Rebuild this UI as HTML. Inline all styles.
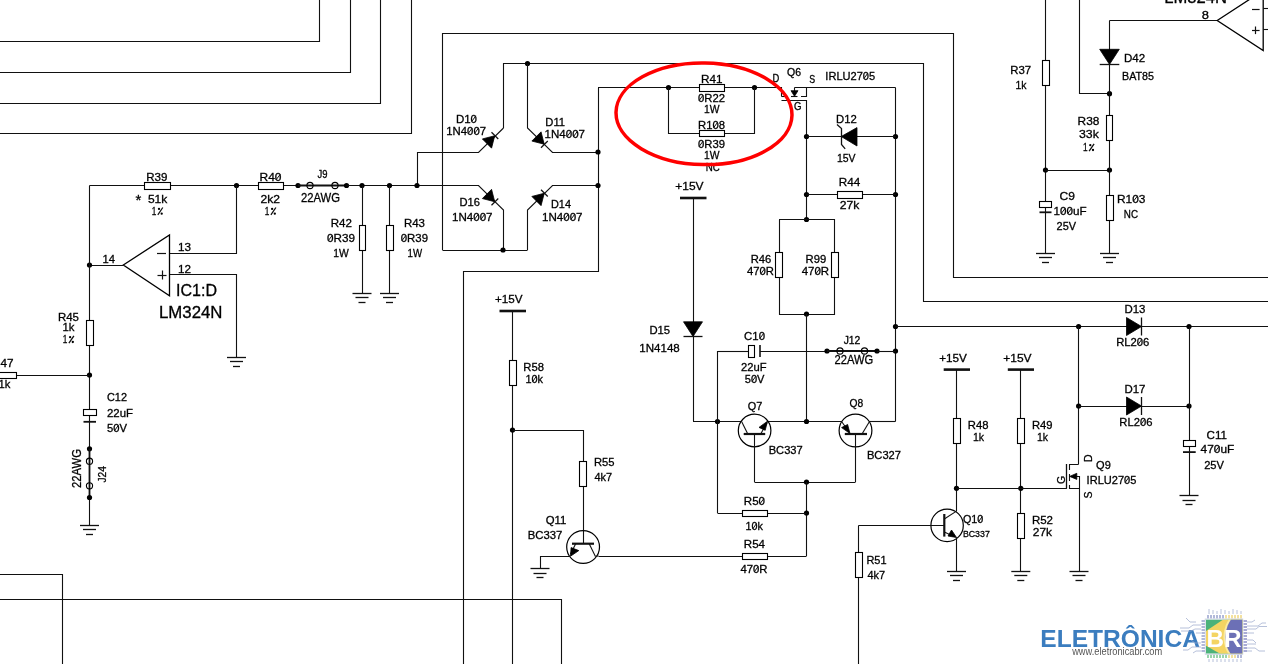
<!DOCTYPE html>
<html><head><meta charset="utf-8"><style>
html,body{margin:0;padding:0;background:#fff;width:1268px;height:664px;overflow:hidden}
svg{display:block;will-change:transform}
text{font-family:"Liberation Sans", sans-serif;stroke:#000;stroke-width:0.3px}
</style></head><body>
<svg width="1268" height="664" viewBox="0 0 1268 664">
<rect width="1268" height="664" fill="#fff"/>
<path d="M0,41.5 L319.5,41.5 L319.5,0" fill="none" stroke="#111" stroke-width="1.1"/>
<path d="M0,72.5 L350.5,72.5 L350.5,0" fill="none" stroke="#111" stroke-width="1.1"/>
<path d="M0,103.5 L380.5,103.5 L380.5,0" fill="none" stroke="#111" stroke-width="1.1"/>
<path d="M0,133.5 L411.5,133.5 L411.5,0" fill="none" stroke="#111" stroke-width="1.1"/>
<path d="M442.5,250 L442.5,33.5 L953.5,33.5 L953.5,277.5 L1268,277.5" fill="none" stroke="#111" stroke-width="1.1"/>
<path d="M503.5,128 L503.5,63.5 L923.5,63.5 L923.5,301.5 L1268,301.5" fill="none" stroke="#111" stroke-width="1.1"/>
<circle cx="527.5" cy="63.5" r="2.6" fill="#000"/>
<path d="M527.5,63.5 L527.5,128 L552.5,152.5 L598,152.5" fill="none" stroke="#111" stroke-width="1.1"/>
<path d="M503.5,128 L478.5,152.5 L417.5,152.5 L417.5,185.5" fill="none" stroke="#111" stroke-width="1.1"/>
<path d="M417,185.5 L478.5,185.5 L503.5,210 L503.5,250" fill="none" stroke="#111" stroke-width="1.1"/>
<path d="M527.5,250 L527.5,210 L552.5,185.5 L598,185.5" fill="none" stroke="#111" stroke-width="1.1"/>
<path d="M442.5,250.5 L527.5,250.5" fill="none" stroke="#111" stroke-width="1.1"/>
<circle cx="503" cy="250" r="2.6" fill="#000"/>
<path d="M598.5,87.5 L598.5,271.5 L463.5,271.5 L463.5,664" fill="none" stroke="#111" stroke-width="1.1"/>
<circle cx="598" cy="152" r="2.6" fill="#000"/>
<circle cx="598" cy="185.5" r="2.6" fill="#000"/>
<path d="M482.368,138.939 L491.561,148.132 L494.743,135.757Z" fill="#000" stroke="#000" stroke-width="0.8"/>
<path d="M491.49,132.222 L498.278,139.01" fill="none" stroke="#111" stroke-width="1.2"/>
<path d="M541.061,131.868 L531.868,141.061 L544.243,144.243Z" fill="#000" stroke="#000" stroke-width="0.8"/>
<path d="M547.778,140.99 L540.99,147.778" fill="none" stroke="#111" stroke-width="1.2"/>
<path d="M491.561,189.368 L482.368,198.561 L494.743,201.743Z" fill="#000" stroke="#000" stroke-width="0.8"/>
<path d="M498.278,198.49 L491.49,205.278" fill="none" stroke="#111" stroke-width="1.2"/>
<path d="M531.868,196.439 L541.061,205.632 L544.243,193.257Z" fill="#000" stroke="#000" stroke-width="0.8"/>
<path d="M540.99,189.722 L547.778,196.51" fill="none" stroke="#111" stroke-width="1.2"/>
<path d="M598,87.5 L781.5,87.5 L781.5,96.5" fill="none" stroke="#111" stroke-width="1.1"/>
<circle cx="668.5" cy="87.5" r="2.6" fill="#000"/>
<circle cx="754.5" cy="87.5" r="2.6" fill="#000"/>
<rect x="699.5" y="84.5" width="25" height="7" fill="#fff" stroke="#000" stroke-width="1.1"/>
<path d="M668.5,87.5 L668.5,133.5 L754.5,133.5 L754.5,87.5" fill="none" stroke="#111" stroke-width="1.1"/>
<rect x="699.5" y="130.5" width="25" height="6" fill="#fff" stroke="#000" stroke-width="1.1"/>
<path d="M781.5,96.5 L787,96.5" fill="none" stroke="#111" stroke-width="1.1"/>
<path d="M791,96.5 L797.5,96.5" fill="none" stroke="#111" stroke-width="1.1"/>
<path d="M801,96.5 L806.5,96.5 L806.5,87.5" fill="none" stroke="#111" stroke-width="1.1"/>
<path d="M794.5,87.5 L895.5,87.5" fill="none" stroke="#111" stroke-width="1.1"/>
<path d="M794.5,87.5 L794.5,92" fill="none" stroke="#111" stroke-width="1.1"/>
<path d="M791,90.7 L798,90.7 L794.5,96.3Z" fill="#000" stroke="#000" stroke-width="0.8"/>
<path d="M781.5,100.5 L806.5,100.5 L806.5,219.5" fill="none" stroke="#111" stroke-width="1.1"/>
<path d="M895.5,87.5 L895.5,421.5" fill="none" stroke="#111" stroke-width="1.1"/>
<circle cx="806.5" cy="136.5" r="2.6" fill="#000"/>
<circle cx="895.5" cy="136.5" r="2.6" fill="#000"/>
<path d="M806.5,136.5 L895.5,136.5" fill="none" stroke="#111" stroke-width="1.1"/>
<path d="M857,127.6 L857,146 L841.2,136.5Z" fill="#000" stroke="#000" stroke-width="0.8"/>
<path d="M837,124.5 L841.5,128.5 L841.5,144.5 L845.2,148.8" fill="none" stroke="#111" stroke-width="1.3"/>
<circle cx="806.5" cy="194.5" r="2.6" fill="#000"/>
<circle cx="895.5" cy="194.5" r="2.6" fill="#000"/>
<path d="M806.5,194.5 L895.5,194.5" fill="none" stroke="#111" stroke-width="1.1"/>
<rect x="837.5" y="191.5" width="25" height="7" fill="#fff" stroke="#000" stroke-width="1.1"/>
<circle cx="806.5" cy="219.5" r="2.6" fill="#000"/>
<path d="M779,219.5 L834.5,219.5 L834.5,314.5 L779.5,314.5 L779.5,219.5" fill="none" stroke="#111" stroke-width="1.1"/>
<rect x="775.5" y="252.5" width="7" height="25" fill="#fff" stroke="#000" stroke-width="1.1"/>
<rect x="831.5" y="252.5" width="7" height="25" fill="#fff" stroke="#000" stroke-width="1.1"/>
<circle cx="806.5" cy="314" r="2.6" fill="#000"/>
<path d="M806.5,314 L806.5,421.5" fill="none" stroke="#111" stroke-width="1.1"/>
<circle cx="895.5" cy="326.5" r="2.6" fill="#000"/>
<circle cx="895.5" cy="351" r="2.6" fill="#000"/>
<path d="M680,198 L706.5,198" fill="none" stroke="#111" stroke-width="2.6"/>
<path d="M693.5,198 L693.5,421.5" fill="none" stroke="#111" stroke-width="1.1"/>
<path d="M683.5,321.8 L702.5,321.8 L693,336.5Z" fill="#000" stroke="#000" stroke-width="0.8"/>
<path d="M683.5,336.5 L702.5,336.5" fill="none" stroke="#111" stroke-width="1.3"/>
<path d="M693,421.5 L741.6,421.5" fill="none" stroke="#111" stroke-width="1.1"/>
<circle cx="717.5" cy="421.5" r="2.6" fill="#000"/>
<path d="M767.7,421.5 L841.6,421.5" fill="none" stroke="#111" stroke-width="1.1"/>
<circle cx="806.5" cy="421.5" r="2.6" fill="#000"/>
<path d="M869.5,421.5 L895.5,421.5" fill="none" stroke="#111" stroke-width="1.1"/>
<path d="M717.5,351.5 L748,351.5" fill="none" stroke="#111" stroke-width="1.1"/>
<rect x="748.5" y="345.5" width="6" height="12" fill="#fff" stroke="#000" stroke-width="1.1"/>
<path d="M760,345 L760,357" fill="none" stroke="#111" stroke-width="1.6"/>
<path d="M760,351.5 L827,351.5" fill="none" stroke="#111" stroke-width="1.1"/>
<circle cx="827" cy="351" r="2.6" fill="#000"/>
<path d="M827,351 L877,351" fill="none" stroke="#111" stroke-width="1.8"/>
<circle cx="840" cy="351" r="3.1" fill="none" stroke="#000" stroke-width="1.1"/>
<circle cx="864.5" cy="351" r="3.1" fill="none" stroke="#000" stroke-width="1.1"/>
<circle cx="877" cy="351" r="2.6" fill="#000"/>
<path d="M877,351.5 L895.5,351.5" fill="none" stroke="#111" stroke-width="1.1"/>
<path d="M717.5,351 L717.5,513" fill="none" stroke="#111" stroke-width="1.1"/>
<circle cx="754.6" cy="430.5" r="16.3" fill="none" stroke="#000" stroke-width="1.2"/>
<path d="M743.7,434 L765.2,434" fill="none" stroke="#111" stroke-width="2.2"/>
<path d="M741.6,421.5 L747.8,434" fill="none" stroke="#111" stroke-width="1.1"/>
<path d="M760.7,434 L767.2,422.5" fill="none" stroke="#111" stroke-width="1.1"/>
<path d="M767.5,421.2 L759,427.4 L765.2,430.3Z" fill="#000" stroke="#000" stroke-width="0.8"/>
<path d="M754.5,434 L754.5,482" fill="none" stroke="#111" stroke-width="1.1"/>
<circle cx="855.5" cy="430.5" r="16.4" fill="none" stroke="#000" stroke-width="1.2"/>
<path d="M844.8,434 L867,434" fill="none" stroke="#111" stroke-width="2.2"/>
<path d="M841.6,421.5 L849,432" fill="none" stroke="#111" stroke-width="1.1"/>
<path d="M850,433.5 L841.6,427.6 L847.6,424.5Z" fill="#000" stroke="#000" stroke-width="0.8"/>
<path d="M862,434 L869.5,421.5" fill="none" stroke="#111" stroke-width="1.1"/>
<path d="M855.5,434 L855.5,482" fill="none" stroke="#111" stroke-width="1.1"/>
<path d="M754.5,482.5 L855.5,482.5" fill="none" stroke="#111" stroke-width="1.1"/>
<circle cx="806.5" cy="482" r="2.6" fill="#000"/>
<path d="M806.5,482 L806.5,556" fill="none" stroke="#111" stroke-width="1.1"/>
<circle cx="806.5" cy="513" r="2.6" fill="#000"/>
<path d="M717.5,513.5 L806.5,513.5" fill="none" stroke="#111" stroke-width="1.1"/>
<rect x="742.5" y="510.5" width="25" height="6" fill="#fff" stroke="#000" stroke-width="1.1"/>
<path d="M598.7,556.5 L806.5,556.5" fill="none" stroke="#111" stroke-width="1.1"/>
<rect x="742.5" y="553.5" width="25" height="6" fill="#fff" stroke="#000" stroke-width="1.1"/>
<path d="M499.5,311 L526,311" fill="none" stroke="#111" stroke-width="2.6"/>
<path d="M512.5,311 L512.5,664" fill="none" stroke="#111" stroke-width="1.1"/>
<rect x="509.5" y="360.5" width="7" height="25" fill="#fff" stroke="#000" stroke-width="1.1"/>
<circle cx="512.5" cy="430" r="2.6" fill="#000"/>
<path d="M512.5,430.5 L583.5,430.5 L583.5,543.7" fill="none" stroke="#111" stroke-width="1.1"/>
<rect x="579.5" y="461.5" width="7" height="25" fill="#fff" stroke="#000" stroke-width="1.1"/>
<circle cx="583.1" cy="547" r="16.4" fill="none" stroke="#000" stroke-width="1.2"/>
<path d="M572,543.7 L594,543.7" fill="none" stroke="#111" stroke-width="2.2"/>
<path d="M575.7,543.7 L570.5,554" fill="none" stroke="#111" stroke-width="1.1"/>
<path d="M570.5,556.2 L571.1,547.6 L578.8,550.6Z" fill="#000" stroke="#000" stroke-width="0.8"/>
<path d="M589.2,543.7 L595.3,556.2 L598.7,556" fill="none" stroke="#111" stroke-width="1.1"/>
<path d="M570,556.5 L540.5,556.5 L540.5,568.5" fill="none" stroke="#111" stroke-width="1.1"/>
<path d="M530.5,568.5 L549.5,568.5" fill="none" stroke="#111" stroke-width="1.3"/>
<path d="M533.5,573.5 L546.5,573.5" fill="none" stroke="#111" stroke-width="1.3"/>
<path d="M536.5,577.5 L543.5,577.5" fill="none" stroke="#111" stroke-width="1.3"/>
<path d="M0,599.5 L561.5,599.5 L561.5,664" fill="none" stroke="#111" stroke-width="1.1"/>
<path d="M0,574.5 L62.5,574.5 L62.5,664" fill="none" stroke="#111" stroke-width="1.1"/>
<path d="M89.5,185.5 L298,185.5" fill="none" stroke="#111" stroke-width="1.1"/>
<rect x="144.5" y="182.5" width="26" height="7" fill="#fff" stroke="#000" stroke-width="1.1"/>
<circle cx="236.5" cy="185.5" r="2.6" fill="#000"/>
<rect x="258.5" y="182.5" width="25" height="7" fill="#fff" stroke="#000" stroke-width="1.1"/>
<circle cx="298" cy="185.5" r="2.6" fill="#000"/>
<path d="M298,185.5 L346.5,185.5" fill="none" stroke="#111" stroke-width="1.8"/>
<circle cx="310" cy="185.5" r="3.1" fill="none" stroke="#000" stroke-width="1.1"/>
<circle cx="335" cy="185.5" r="3.1" fill="none" stroke="#000" stroke-width="1.1"/>
<circle cx="346.5" cy="185.5" r="2.6" fill="#000"/>
<path d="M346.5,185.5 L417,185.5" fill="none" stroke="#111" stroke-width="1.1"/>
<circle cx="362" cy="185.5" r="2.6" fill="#000"/>
<circle cx="389.5" cy="185.5" r="2.6" fill="#000"/>
<circle cx="417" cy="185.5" r="2.6" fill="#000"/>
<path d="M236.5,185.5 L236.5,253.5 L169.5,253.5" fill="none" stroke="#111" stroke-width="1.1"/>
<path d="M169.5,274.5 L236.5,274.5 L236.5,357" fill="none" stroke="#111" stroke-width="1.1"/>
<path d="M227,357.5 L246,357.5" fill="none" stroke="#111" stroke-width="1.3"/>
<path d="M230,361.5 L243,361.5" fill="none" stroke="#111" stroke-width="1.3"/>
<path d="M233,366.5 L240,366.5" fill="none" stroke="#111" stroke-width="1.3"/>
<path d="M123.3,265 L169.5,235 L169.5,295.8 Z" fill="none" stroke="#000" stroke-width="1.3"/>
<path d="M157,253.5 L166,253.5" fill="none" stroke="#111" stroke-width="1.2"/>
<path d="M157.5,275.5 L166.5,275.5" fill="none" stroke="#111" stroke-width="1.2"/>
<path d="M162.5,270.5 L162.5,279.5" fill="none" stroke="#111" stroke-width="1.2"/>
<path d="M89.5,265.5 L123.3,265.5" fill="none" stroke="#111" stroke-width="1.1"/>
<circle cx="89.5" cy="265" r="2.6" fill="#000"/>
<path d="M89.5,185.5 L89.5,448.8" fill="none" stroke="#111" stroke-width="1.1"/>
<path d="M89.5,497.5 L89.5,525" fill="none" stroke="#111" stroke-width="1.1"/>
<rect x="86.5" y="320.5" width="7" height="25" fill="#fff" stroke="#000" stroke-width="1.1"/>
<circle cx="89.5" cy="375" r="2.6" fill="#000"/>
<path d="M-10,375.5 L89.5,375.5" fill="none" stroke="#111" stroke-width="1.1"/>
<rect x="-8.5" y="372.5" width="25" height="6" fill="#fff" stroke="#000" stroke-width="1.1"/>
<rect x="83.5" y="409.5" width="13" height="6" fill="#fff" stroke="#000" stroke-width="1.1"/>
<path d="M83.5,421.8 L96,421.8" fill="none" stroke="#111" stroke-width="1.8"/>
<circle cx="89.5" cy="448.8" r="2.6" fill="#000"/>
<path d="M89.5,448.8 L89.5,497.5" fill="none" stroke="#111" stroke-width="1.8"/>
<circle cx="89.5" cy="461.2" r="3.1" fill="none" stroke="#000" stroke-width="1.1"/>
<circle cx="89.5" cy="485.8" r="3.1" fill="none" stroke="#000" stroke-width="1.1"/>
<circle cx="89.5" cy="497.5" r="2.6" fill="#000"/>
<path d="M80,525.5 L99,525.5" fill="none" stroke="#111" stroke-width="1.3"/>
<path d="M83,529.5 L96,529.5" fill="none" stroke="#111" stroke-width="1.3"/>
<path d="M86,534.5 L93,534.5" fill="none" stroke="#111" stroke-width="1.3"/>
<path d="M362.5,185.5 L362.5,293" fill="none" stroke="#111" stroke-width="1.1"/>
<rect x="359.5" y="225.5" width="6" height="25" fill="#fff" stroke="#000" stroke-width="1.1"/>
<path d="M352.5,293.5 L371.5,293.5" fill="none" stroke="#111" stroke-width="1.3"/>
<path d="M355.5,297.5 L368.5,297.5" fill="none" stroke="#111" stroke-width="1.3"/>
<path d="M358.5,302.5 L365.5,302.5" fill="none" stroke="#111" stroke-width="1.3"/>
<path d="M389.5,185.5 L389.5,293" fill="none" stroke="#111" stroke-width="1.1"/>
<rect x="386.5" y="225.5" width="7" height="25" fill="#fff" stroke="#000" stroke-width="1.1"/>
<path d="M380,293.5 L399,293.5" fill="none" stroke="#111" stroke-width="1.3"/>
<path d="M383,297.5 L396,297.5" fill="none" stroke="#111" stroke-width="1.3"/>
<path d="M386,302.5 L393,302.5" fill="none" stroke="#111" stroke-width="1.3"/>
<path d="M1045.5,0 L1045.5,253" fill="none" stroke="#111" stroke-width="1.1"/>
<rect x="1042.5" y="60.5" width="7" height="25" fill="#fff" stroke="#000" stroke-width="1.1"/>
<circle cx="1045.5" cy="170" r="2.6" fill="#000"/>
<path d="M1045.5,170.5 L1109.5,170.5" fill="none" stroke="#111" stroke-width="1.1"/>
<circle cx="1109.5" cy="170" r="2.6" fill="#000"/>
<rect x="1039.5" y="201.5" width="12" height="6" fill="#fff" stroke="#000" stroke-width="1.1"/>
<path d="M1039.5,212.3 L1051.5,212.3" fill="none" stroke="#111" stroke-width="1.8"/>
<path d="M1036,253.5 L1055,253.5" fill="none" stroke="#111" stroke-width="1.3"/>
<path d="M1039,257.5 L1052,257.5" fill="none" stroke="#111" stroke-width="1.3"/>
<path d="M1042,262.5 L1049,262.5" fill="none" stroke="#111" stroke-width="1.3"/>
<path d="M1079.5,0 L1079.5,93.5 L1109.5,93.5" fill="none" stroke="#111" stroke-width="1.1"/>
<circle cx="1109.5" cy="93.7" r="2.6" fill="#000"/>
<path d="M1109.5,20.5 L1109.5,253" fill="none" stroke="#111" stroke-width="1.1"/>
<path d="M1099.7,49.3 L1119.3,49.3 L1109.5,64.4Z" fill="#000" stroke="#000" stroke-width="0.8"/>
<path d="M1099.7,64.5 L1119.3,64.5" fill="none" stroke="#111" stroke-width="1.3"/>
<rect x="1106.5" y="115.5" width="6" height="25" fill="#fff" stroke="#000" stroke-width="1.1"/>
<rect x="1106.5" y="195.5" width="7" height="25" fill="#fff" stroke="#000" stroke-width="1.1"/>
<path d="M1100,253.5 L1119,253.5" fill="none" stroke="#111" stroke-width="1.3"/>
<path d="M1103,257.5 L1116,257.5" fill="none" stroke="#111" stroke-width="1.3"/>
<path d="M1106,262.5 L1113,262.5" fill="none" stroke="#111" stroke-width="1.3"/>
<path d="M1109.5,20.5 L1217,20.5" fill="none" stroke="#111" stroke-width="1.1"/>
<path d="M1217.2,20.5 L1263.2,-9.5 L1263.2,50.5 Z" fill="none" stroke="#000" stroke-width="1.3"/>
<path d="M1263.2,8.5 L1268,8.5" fill="none" stroke="#111" stroke-width="1.1"/>
<path d="M1263.2,29.5 L1268,29.5" fill="none" stroke="#111" stroke-width="1.1"/>
<path d="M1252,9.5 L1259.6,9.5" fill="none" stroke="#111" stroke-width="1.2"/>
<path d="M1252,30.5 L1259.6,30.5" fill="none" stroke="#111" stroke-width="1.2"/>
<path d="M1255.5,26.5 L1255.5,34.1" fill="none" stroke="#111" stroke-width="1.2"/>
<path d="M895.5,326.5 L1268,326.5" fill="none" stroke="#111" stroke-width="1.1"/>
<circle cx="1078.6" cy="326.5" r="2.6" fill="#000"/>
<circle cx="1189" cy="326.5" r="2.6" fill="#000"/>
<path d="M1126.5,317.5 L1126.5,335.5 L1141.5,326.5Z" fill="#000" stroke="#000" stroke-width="0.8"/>
<path d="M1141.5,317.5 L1141.5,335.5" fill="none" stroke="#111" stroke-width="1.3"/>
<path d="M1078.5,326.5 L1078.5,464.3" fill="none" stroke="#111" stroke-width="1.1"/>
<circle cx="1078.6" cy="406" r="2.6" fill="#000"/>
<path d="M1078.6,406.5 L1189,406.5" fill="none" stroke="#111" stroke-width="1.1"/>
<circle cx="1189" cy="406" r="2.6" fill="#000"/>
<path d="M1126.5,397 L1126.5,415 L1141.5,406Z" fill="#000" stroke="#000" stroke-width="0.8"/>
<path d="M1141.5,397 L1141.5,415" fill="none" stroke="#111" stroke-width="1.3"/>
<path d="M1189.5,326.5 L1189.5,495.7" fill="none" stroke="#111" stroke-width="1.1"/>
<rect x="1183.5" y="440.5" width="12" height="6" fill="#fff" stroke="#000" stroke-width="1.1"/>
<path d="M1183,452.1 L1195.7,452.1" fill="none" stroke="#111" stroke-width="1.8"/>
<path d="M1179.5,495.5 L1198.5,495.5" fill="none" stroke="#111" stroke-width="1.3"/>
<path d="M1182.5,500.5 L1195.5,500.5" fill="none" stroke="#111" stroke-width="1.3"/>
<path d="M1185.5,504.5 L1192.5,504.5" fill="none" stroke="#111" stroke-width="1.3"/>
<path d="M943.7,369.6 L970,369.6" fill="none" stroke="#111" stroke-width="2.6"/>
<path d="M956.5,369.6 L956.5,511" fill="none" stroke="#111" stroke-width="1.1"/>
<rect x="953.5" y="418.5" width="7" height="25" fill="#fff" stroke="#000" stroke-width="1.1"/>
<circle cx="956.5" cy="488.3" r="2.6" fill="#000"/>
<path d="M1007.8,369.6 L1034,369.6" fill="none" stroke="#111" stroke-width="2.6"/>
<path d="M1020.5,369.6 L1020.5,571.4" fill="none" stroke="#111" stroke-width="1.1"/>
<rect x="1017.5" y="418.5" width="7" height="25" fill="#fff" stroke="#000" stroke-width="1.1"/>
<circle cx="1020.8" cy="488.3" r="2.6" fill="#000"/>
<rect x="1017.5" y="513.5" width="7" height="25" fill="#fff" stroke="#000" stroke-width="1.1"/>
<path d="M1011.3,571.5 L1030.3,571.5" fill="none" stroke="#111" stroke-width="1.3"/>
<path d="M1014.3,575.5 L1027.3,575.5" fill="none" stroke="#111" stroke-width="1.3"/>
<path d="M1017.3,580.5 L1024.3,580.5" fill="none" stroke="#111" stroke-width="1.3"/>
<path d="M956.5,488.5 L1066.9,488.5" fill="none" stroke="#111" stroke-width="1.1"/>
<path d="M1078.6,464.5 L1069.5,464.5 L1069.5,470" fill="none" stroke="#111" stroke-width="1.1"/>
<path d="M1069.5,474 L1069.5,481" fill="none" stroke="#111" stroke-width="1.1"/>
<path d="M1069.5,485 L1069.5,488.5 L1079,488.5" fill="none" stroke="#111" stroke-width="1.1"/>
<path d="M1066.5,464 L1066.5,488.4" fill="none" stroke="#111" stroke-width="1.3"/>
<path d="M1072,476.5 L1079.5,476.5 L1079.5,571.4" fill="none" stroke="#111" stroke-width="1.1"/>
<path d="M1069.7,476.4 L1076.8,473.3 L1076.8,479.4Z" fill="#000" stroke="#000" stroke-width="0.8"/>
<path d="M1069.5,571.5 L1088.5,571.5" fill="none" stroke="#111" stroke-width="1.3"/>
<path d="M1072.5,575.5 L1085.5,575.5" fill="none" stroke="#111" stroke-width="1.3"/>
<path d="M1075.5,580.5 L1082.5,580.5" fill="none" stroke="#111" stroke-width="1.3"/>
<circle cx="947.1" cy="525.4" r="16.2" fill="none" stroke="#000" stroke-width="1.2"/>
<path d="M944.3,514 L944.3,536.6" fill="none" stroke="#111" stroke-width="2.2"/>
<path d="M944.3,519 L956.5,511.1" fill="none" stroke="#111" stroke-width="1.1"/>
<path d="M944.3,532 L954,536.5" fill="none" stroke="#111" stroke-width="1.1"/>
<path d="M956.5,537.5 L948,536 L951.5,530Z" fill="#000" stroke="#000" stroke-width="0.8"/>
<path d="M956.5,537.5 L956.5,571.4" fill="none" stroke="#111" stroke-width="1.1"/>
<path d="M947,571.5 L966,571.5" fill="none" stroke="#111" stroke-width="1.3"/>
<path d="M950,575.5 L963,575.5" fill="none" stroke="#111" stroke-width="1.3"/>
<path d="M953,580.5 L960,580.5" fill="none" stroke="#111" stroke-width="1.3"/>
<path d="M858.6,525.5 L944.3,525.5" fill="none" stroke="#111" stroke-width="1.1"/>
<path d="M858.5,525.4 L858.5,664" fill="none" stroke="#111" stroke-width="1.1"/>
<rect x="855.5" y="552.5" width="7" height="25" fill="#fff" stroke="#000" stroke-width="1.1"/>
<text x="146.25" y="181" font-size="11.5" textLength="21.25" lengthAdjust="spacingAndGlyphs" fill="#000">R39</text>
<text x="135.6" y="205" font-size="14" textLength="5.8" lengthAdjust="spacingAndGlyphs" fill="#000">*</text>
<text x="147.9" y="202.7" font-size="11.5" textLength="19.4" lengthAdjust="spacingAndGlyphs" fill="#000">51k</text>
<text x="151.7" y="214.7" font-size="11.5" textLength="4.6" lengthAdjust="spacingAndGlyphs" fill="#000">1</text>
<path d="M157.8,214.9 L162.8,207.5" fill="none" stroke="#111" stroke-width="1.3"/>
<circle cx="159" cy="208.9" r="1.15" fill="#000"/>
<circle cx="161.7" cy="213.7" r="1.15" fill="#000"/>
<text x="259.5" y="181" font-size="11.5" textLength="22" lengthAdjust="spacingAndGlyphs" fill="#000">R40</text>
<path d="M276.013,179.8 L280.315,174.288" fill="none" stroke="#111" stroke-width="1.0"/>
<text x="260.5" y="203" font-size="11.5" textLength="19.5" lengthAdjust="spacingAndGlyphs" fill="#000">2k2</text>
<text x="264.8" y="214.7" font-size="11.5" textLength="4.6" lengthAdjust="spacingAndGlyphs" fill="#000">1</text>
<path d="M270.9,214.9 L275.9,207.5" fill="none" stroke="#111" stroke-width="1.3"/>
<circle cx="272.1" cy="208.9" r="1.15" fill="#000"/>
<circle cx="274.8" cy="213.7" r="1.15" fill="#000"/>
<text x="102.5" y="263" font-size="11.5" textLength="12.5" lengthAdjust="spacingAndGlyphs" fill="#000">14</text>
<text x="178" y="251" font-size="11.5" textLength="13" lengthAdjust="spacingAndGlyphs" fill="#000">13</text>
<text x="178" y="272.5" font-size="11.5" textLength="13" lengthAdjust="spacingAndGlyphs" fill="#000">12</text>
<text x="176" y="296" font-size="16" textLength="41" lengthAdjust="spacingAndGlyphs" fill="#000">IC1:D</text>
<text x="159" y="318" font-size="16" textLength="63.5" lengthAdjust="spacingAndGlyphs" fill="#000">LM324N</text>
<text x="58" y="321" font-size="11.5" textLength="21" lengthAdjust="spacingAndGlyphs" fill="#000">R45</text>
<text x="62.5" y="331" font-size="11.5" textLength="12" lengthAdjust="spacingAndGlyphs" fill="#000">1k</text>
<text x="62.8" y="343" font-size="11.5" textLength="4.6" lengthAdjust="spacingAndGlyphs" fill="#000">1</text>
<path d="M68.9,343.2 L73.9,335.8" fill="none" stroke="#111" stroke-width="1.3"/>
<circle cx="70.1" cy="337.2" r="1.15" fill="#000"/>
<circle cx="72.8" cy="342" r="1.15" fill="#000"/>
<text x="-8" y="367" font-size="11.5" textLength="21.5" lengthAdjust="spacingAndGlyphs" fill="#000">R47</text>
<text x="-1.5" y="388.3" font-size="11.5" textLength="11.9" lengthAdjust="spacingAndGlyphs" fill="#000">1k</text>
<text x="107" y="401" font-size="11.5" textLength="20" lengthAdjust="spacingAndGlyphs" fill="#000">C12</text>
<text x="107" y="417" font-size="11.5" textLength="26" lengthAdjust="spacingAndGlyphs" fill="#000">22uF</text>
<text x="107" y="432" font-size="11.5" textLength="20" lengthAdjust="spacingAndGlyphs" fill="#000">50V</text>
<path d="M114.36,430.8 L118.392,425.288" fill="none" stroke="#111" stroke-width="1.0"/>
<text x="301" y="201.75" font-size="13" textLength="39" lengthAdjust="spacingAndGlyphs" fill="#000">22AWG</text>
<text x="317.5" y="177.5" font-size="10.5" textLength="10" lengthAdjust="spacingAndGlyphs" fill="#000">J9</text>
<text x="330.75" y="226.75" font-size="11.5" textLength="21.25" lengthAdjust="spacingAndGlyphs" fill="#000">R42</text>
<text x="327" y="242" font-size="11.5" textLength="28" lengthAdjust="spacingAndGlyphs" fill="#000">0R39</text>
<path d="M328.155,240.8 L332.357,235.288" fill="none" stroke="#111" stroke-width="1.0"/>
<text x="333.25" y="257" font-size="11.5" textLength="15.5" lengthAdjust="spacingAndGlyphs" fill="#000">1W</text>
<text x="404" y="226.75" font-size="11.5" textLength="21" lengthAdjust="spacingAndGlyphs" fill="#000">R43</text>
<text x="400.75" y="242" font-size="11.5" textLength="27.25" lengthAdjust="spacingAndGlyphs" fill="#000">0R39</text>
<path d="M401.874,240.8 L405.963,235.288" fill="none" stroke="#111" stroke-width="1.0"/>
<text x="407.5" y="257" font-size="11.5" textLength="14.5" lengthAdjust="spacingAndGlyphs" fill="#000">1W</text>
<text x="455.9" y="122.6" font-size="11.5" textLength="21.1" lengthAdjust="spacingAndGlyphs" fill="#000">D10</text>
<path d="M471.738,121.4 L475.864,115.888" fill="none" stroke="#111" stroke-width="1.0"/>
<text x="446.3" y="134.7" font-size="11.5" textLength="39.7" lengthAdjust="spacingAndGlyphs" fill="#000">1N4007</text>
<path d="M468.209,133.5 L472.274,127.988" fill="none" stroke="#111" stroke-width="1.0"/>
<path d="M474.512,133.5 L478.577,127.988" fill="none" stroke="#111" stroke-width="1.0"/>
<text x="545.3" y="126" font-size="11.5" textLength="19.7" lengthAdjust="spacingAndGlyphs" fill="#000">D11</text>
<text x="544.6" y="138" font-size="11.5" textLength="40.4" lengthAdjust="spacingAndGlyphs" fill="#000">1N4007</text>
<path d="M566.895,136.8 L571.032,131.288" fill="none" stroke="#111" stroke-width="1.0"/>
<path d="M573.309,136.8 L577.446,131.288" fill="none" stroke="#111" stroke-width="1.0"/>
<text x="459.5" y="205.5" font-size="11.5" textLength="20.5" lengthAdjust="spacingAndGlyphs" fill="#000">D16</text>
<text x="452" y="220.75" font-size="11.5" textLength="40.5" lengthAdjust="spacingAndGlyphs" fill="#000">1N4007</text>
<path d="M474.35,219.55 L478.498,214.038" fill="none" stroke="#111" stroke-width="1.0"/>
<path d="M480.78,219.55 L484.928,214.038" fill="none" stroke="#111" stroke-width="1.0"/>
<text x="551" y="208" font-size="11.5" textLength="20" lengthAdjust="spacingAndGlyphs" fill="#000">D14</text>
<text x="542" y="220.75" font-size="11.5" textLength="40.5" lengthAdjust="spacingAndGlyphs" fill="#000">1N4007</text>
<path d="M564.35,219.55 L568.498,214.038" fill="none" stroke="#111" stroke-width="1.0"/>
<path d="M570.78,219.55 L574.928,214.038" fill="none" stroke="#111" stroke-width="1.0"/>
<text x="495" y="303" font-size="11.5" textLength="27.5" lengthAdjust="spacingAndGlyphs" fill="#000">+15V</text>
<text x="701" y="82.8" font-size="11.5" textLength="21.5" lengthAdjust="spacingAndGlyphs" fill="#000">R41</text>
<text x="698" y="101.7" font-size="11.5" textLength="27" lengthAdjust="spacingAndGlyphs" fill="#000">0R22</text>
<path d="M699.114,100.5 L703.165,94.988" fill="none" stroke="#111" stroke-width="1.0"/>
<text x="704" y="113.1" font-size="11.5" textLength="15.5" lengthAdjust="spacingAndGlyphs" fill="#000">1W</text>
<text x="698" y="129" font-size="11.5" textLength="27" lengthAdjust="spacingAndGlyphs" fill="#000">R108</text>
<path d="M713.552,127.8 L717.603,122.288" fill="none" stroke="#111" stroke-width="1.0"/>
<text x="698" y="147.7" font-size="11.5" textLength="27" lengthAdjust="spacingAndGlyphs" fill="#000">0R39</text>
<path d="M699.114,146.5 L703.165,140.988" fill="none" stroke="#111" stroke-width="1.0"/>
<text x="704" y="159" font-size="11.5" textLength="15.5" lengthAdjust="spacingAndGlyphs" fill="#000">1W</text>
<text x="705.7" y="171.3" font-size="11.5" textLength="14.1" lengthAdjust="spacingAndGlyphs" fill="#000">NC</text>
<text x="772.6" y="82.2" font-size="10.5" textLength="6.8" lengthAdjust="spacingAndGlyphs" fill="#000">D</text>
<text x="787" y="76.3" font-size="10.5" textLength="14" lengthAdjust="spacingAndGlyphs" fill="#000">Q6</text>
<text x="809.2" y="83.3" font-size="10.5" textLength="5.9" lengthAdjust="spacingAndGlyphs" fill="#000">S</text>
<text x="825.3" y="79.7" font-size="11.5" textLength="49.9" lengthAdjust="spacingAndGlyphs" fill="#000">IRLU2705</text>
<path d="M863.967,78.5 L867.942,72.988" fill="none" stroke="#111" stroke-width="1.0"/>
<text x="793.9" y="110.2" font-size="10.5" textLength="7.5" lengthAdjust="spacingAndGlyphs" fill="#000">G</text>
<text x="836.1" y="122.6" font-size="11.5" textLength="20.8" lengthAdjust="spacingAndGlyphs" fill="#000">D12</text>
<text x="837" y="162.2" font-size="11.5" textLength="18.6" lengthAdjust="spacingAndGlyphs" fill="#000">15V</text>
<text x="838.7" y="186.3" font-size="11.5" textLength="21.5" lengthAdjust="spacingAndGlyphs" fill="#000">R44</text>
<text x="839.7" y="208.6" font-size="11.5" textLength="19.6" lengthAdjust="spacingAndGlyphs" fill="#000">27k</text>
<text x="675.3" y="190" font-size="11.5" textLength="28.3" lengthAdjust="spacingAndGlyphs" fill="#000">+15V</text>
<text x="750.7" y="263.4" font-size="11.5" textLength="20.6" lengthAdjust="spacingAndGlyphs" fill="#000">R46</text>
<text x="746.9" y="275.4" font-size="11.5" textLength="27" lengthAdjust="spacingAndGlyphs" fill="#000">470R</text>
<path d="M760.577,274.2 L764.628,268.688" fill="none" stroke="#111" stroke-width="1.0"/>
<text x="805.5" y="263.4" font-size="11.5" textLength="20.7" lengthAdjust="spacingAndGlyphs" fill="#000">R99</text>
<text x="801.7" y="275.4" font-size="11.5" textLength="27.4" lengthAdjust="spacingAndGlyphs" fill="#000">470R</text>
<path d="M815.579,274.2 L819.691,268.688" fill="none" stroke="#111" stroke-width="1.0"/>
<text x="649.4" y="333.7" font-size="11.5" textLength="20.7" lengthAdjust="spacingAndGlyphs" fill="#000">D15</text>
<text x="639.3" y="352.3" font-size="11.5" textLength="40.5" lengthAdjust="spacingAndGlyphs" fill="#000">1N4148</text>
<text x="744.1" y="339.8" font-size="11.5" textLength="20.9" lengthAdjust="spacingAndGlyphs" fill="#000">C10</text>
<path d="M759.788,338.6 L763.874,333.088" fill="none" stroke="#111" stroke-width="1.0"/>
<text x="741" y="371.1" font-size="11.5" textLength="25.5" lengthAdjust="spacingAndGlyphs" fill="#000">22uF</text>
<text x="744.8" y="382.7" font-size="11.5" textLength="19.7" lengthAdjust="spacingAndGlyphs" fill="#000">50V</text>
<path d="M752.05,381.5 L756.021,375.988" fill="none" stroke="#111" stroke-width="1.0"/>
<text x="843.7" y="343.8" font-size="10.5" textLength="16.7" lengthAdjust="spacingAndGlyphs" fill="#000">J12</text>
<text x="834.6" y="364.3" font-size="13" textLength="38.7" lengthAdjust="spacingAndGlyphs" fill="#000">22AWG</text>
<text x="747.7" y="410.4" font-size="11.5" textLength="14.5" lengthAdjust="spacingAndGlyphs" fill="#000">Q7</text>
<text x="768.7" y="453.5" font-size="11.5" textLength="34" lengthAdjust="spacingAndGlyphs" fill="#000">BC337</text>
<text x="849.5" y="407.4" font-size="11.5" textLength="13.7" lengthAdjust="spacingAndGlyphs" fill="#000">Q8</text>
<text x="866.9" y="459" font-size="11.5" textLength="34.1" lengthAdjust="spacingAndGlyphs" fill="#000">BC327</text>
<text x="523.3" y="370.7" font-size="11.5" textLength="20.7" lengthAdjust="spacingAndGlyphs" fill="#000">R58</text>
<text x="525.4" y="382.9" font-size="11.5" textLength="17.6" lengthAdjust="spacingAndGlyphs" fill="#000">10k</text>
<path d="M532.548,381.7 L536.464,376.188" fill="none" stroke="#111" stroke-width="1.0"/>
<text x="593.9" y="465.8" font-size="11.5" textLength="20.6" lengthAdjust="spacingAndGlyphs" fill="#000">R55</text>
<text x="594.4" y="480.7" font-size="11.5" textLength="17.6" lengthAdjust="spacingAndGlyphs" fill="#000">4k7</text>
<text x="545.8" y="523.6" font-size="11.5" textLength="20.6" lengthAdjust="spacingAndGlyphs" fill="#000">Q11</text>
<text x="527.8" y="538.8" font-size="11.5" textLength="34.6" lengthAdjust="spacingAndGlyphs" fill="#000">BC337</text>
<text x="743.8" y="505.3" font-size="11.5" textLength="21.2" lengthAdjust="spacingAndGlyphs" fill="#000">R50</text>
<path d="M759.713,504.1 L763.858,498.588" fill="none" stroke="#111" stroke-width="1.0"/>
<text x="745.6" y="530.2" font-size="11.5" textLength="17.4" lengthAdjust="spacingAndGlyphs" fill="#000">10k</text>
<path d="M752.667,529 L756.538,523.488" fill="none" stroke="#111" stroke-width="1.0"/>
<text x="743.8" y="548.3" font-size="11.5" textLength="21.2" lengthAdjust="spacingAndGlyphs" fill="#000">R54</text>
<text x="740.4" y="573.2" font-size="11.5" textLength="27.1" lengthAdjust="spacingAndGlyphs" fill="#000">470R</text>
<path d="M754.127,572 L758.194,566.488" fill="none" stroke="#111" stroke-width="1.0"/>
<text x="866.4" y="563.6" font-size="11.5" textLength="20.2" lengthAdjust="spacingAndGlyphs" fill="#000">R51</text>
<text x="867.4" y="578.7" font-size="11.5" textLength="17.6" lengthAdjust="spacingAndGlyphs" fill="#000">4k7</text>
<text x="962.9" y="523.2" font-size="11.5" textLength="20.4" lengthAdjust="spacingAndGlyphs" fill="#000">Q10</text>
<path d="M978.362,522 L982.234,516.488" fill="none" stroke="#111" stroke-width="1.0"/>
<text x="962.9" y="536.6" font-size="9.5" textLength="26.9" lengthAdjust="spacingAndGlyphs" fill="#000">BC337</text>
<text x="1031.9" y="523.8" font-size="11.5" textLength="21.1" lengthAdjust="spacingAndGlyphs" fill="#000">R52</text>
<text x="1032.8" y="536.2" font-size="11.5" textLength="19.2" lengthAdjust="spacingAndGlyphs" fill="#000">27k</text>
<text x="939.2" y="361.7" font-size="11.5" textLength="27.7" lengthAdjust="spacingAndGlyphs" fill="#000">+15V</text>
<text x="1003.3" y="361.7" font-size="11.5" textLength="28.3" lengthAdjust="spacingAndGlyphs" fill="#000">+15V</text>
<text x="967.8" y="428.9" font-size="11.5" textLength="20.7" lengthAdjust="spacingAndGlyphs" fill="#000">R48</text>
<text x="972.9" y="441" font-size="11.5" textLength="11.1" lengthAdjust="spacingAndGlyphs" fill="#000">1k</text>
<text x="1031.9" y="428.9" font-size="11.5" textLength="20.6" lengthAdjust="spacingAndGlyphs" fill="#000">R49</text>
<text x="1037" y="441" font-size="11.5" textLength="11" lengthAdjust="spacingAndGlyphs" fill="#000">1k</text>
<text x="1124.4" y="313.2" font-size="11.5" textLength="21" lengthAdjust="spacingAndGlyphs" fill="#000">D13</text>
<text x="1116.2" y="345.8" font-size="11.5" textLength="33.2" lengthAdjust="spacingAndGlyphs" fill="#000">RL206</text>
<path d="M1137.98,344.6 L1142.02,339.088" fill="none" stroke="#111" stroke-width="1.0"/>
<text x="1124.4" y="392.5" font-size="11.5" textLength="21" lengthAdjust="spacingAndGlyphs" fill="#000">D17</text>
<text x="1119.3" y="425.6" font-size="11.5" textLength="33.1" lengthAdjust="spacingAndGlyphs" fill="#000">RL206</text>
<path d="M1141.01,424.4 L1145.04,418.888" fill="none" stroke="#111" stroke-width="1.0"/>
<text x="1206.6" y="438.5" font-size="11.5" textLength="20.4" lengthAdjust="spacingAndGlyphs" fill="#000">C11</text>
<text x="1200.6" y="453" font-size="11.5" textLength="33.7" lengthAdjust="spacingAndGlyphs" fill="#000">470uF</text>
<path d="M1214.99,451.8 L1219.26,446.288" fill="none" stroke="#111" stroke-width="1.0"/>
<text x="1204.2" y="468.6" font-size="11.5" textLength="19.8" lengthAdjust="spacingAndGlyphs" fill="#000">25V</text>
<text x="1096.1" y="468.5" font-size="11.5" textLength="14.7" lengthAdjust="spacingAndGlyphs" fill="#000">Q9</text>
<text x="1086.6" y="483.6" font-size="11.5" textLength="49.8" lengthAdjust="spacingAndGlyphs" fill="#000">IRLU2705</text>
<path d="M1125.19,482.4 L1129.16,476.888" fill="none" stroke="#111" stroke-width="1.0"/>
<text x="1010.3" y="74" font-size="11.5" textLength="20.9" lengthAdjust="spacingAndGlyphs" fill="#000">R37</text>
<text x="1015.5" y="88.5" font-size="11.5" textLength="11" lengthAdjust="spacingAndGlyphs" fill="#000">1k</text>
<text x="1124" y="61.5" font-size="11.5" textLength="21.2" lengthAdjust="spacingAndGlyphs" fill="#000">D42</text>
<text x="1122" y="79.8" font-size="11.5" textLength="32" lengthAdjust="spacingAndGlyphs" fill="#000">BAT85</text>
<text x="1077.6" y="125.4" font-size="11.5" textLength="21.8" lengthAdjust="spacingAndGlyphs" fill="#000">R38</text>
<text x="1079" y="138.4" font-size="11.5" textLength="19.8" lengthAdjust="spacingAndGlyphs" fill="#000">33k</text>
<text x="1083" y="151" font-size="11.5" textLength="4.6" lengthAdjust="spacingAndGlyphs" fill="#000">1</text>
<path d="M1089.1,151.2 L1094.1,143.8" fill="none" stroke="#111" stroke-width="1.3"/>
<circle cx="1090.3" cy="145.2" r="1.15" fill="#000"/>
<circle cx="1093" cy="150" r="1.15" fill="#000"/>
<text x="1201.8" y="18.7" font-size="11.5" textLength="7.2" lengthAdjust="spacingAndGlyphs" fill="#000">8</text>
<text x="1164.2" y="3" font-size="16" textLength="62.8" lengthAdjust="spacingAndGlyphs" fill="#000">LM324N</text>
<text x="1059.6" y="199.6" font-size="11.5" textLength="15.4" lengthAdjust="spacingAndGlyphs" fill="#000">C9</text>
<text x="1053.6" y="214.7" font-size="11.5" textLength="33.1" lengthAdjust="spacingAndGlyphs" fill="#000">100uF</text>
<path d="M1061.24,213.5 L1065.43,207.988" fill="none" stroke="#111" stroke-width="1.0"/>
<path d="M1067.74,213.5 L1071.92,207.988" fill="none" stroke="#111" stroke-width="1.0"/>
<text x="1056.6" y="229.7" font-size="11.5" textLength="19.4" lengthAdjust="spacingAndGlyphs" fill="#000">25V</text>
<text x="1116.9" y="202.6" font-size="11.5" textLength="28.5" lengthAdjust="spacingAndGlyphs" fill="#000">R103</text>
<path d="M1133.32,201.4 L1137.59,195.888" fill="none" stroke="#111" stroke-width="1.0"/>
<text x="1123.8" y="217.7" font-size="11.5" textLength="14.2" lengthAdjust="spacingAndGlyphs" fill="#000">NC</text>
<text transform="translate(81.2,488) rotate(-90)" font-size="13" textLength="39" lengthAdjust="spacingAndGlyphs">22AWG</text>
<text transform="translate(105.5,482.5) rotate(-90)" font-size="10.5" textLength="16.5" lengthAdjust="spacingAndGlyphs">J24</text>
<text transform="translate(1092,462) rotate(-90)" font-size="10.5">D</text>
<text transform="translate(1064.6,484) rotate(-90)" font-size="10.5">G</text>
<text transform="translate(1092,498.5) rotate(-90)" font-size="10.5">S</text>
<ellipse cx="704" cy="113.8" rx="88" ry="50.8" transform="rotate(1 704 113.8)" fill="none" stroke="#f00" stroke-width="3.5"/>
<text x="1040.3" y="646.5" font-size="23" textLength="159.6" lengthAdjust="spacingAndGlyphs" font-weight="bold" fill="#3b7dbf" style="stroke:none">ELETRÔNICA</text>
<text x="1072.2" y="654.8" font-size="10" textLength="90" lengthAdjust="spacingAndGlyphs" fill="#555" style="stroke:none">www.eletronicabr.com</text>
<path d="M1196,622 L1190,622 L1186,618 M1201,625 L1193,625 L1189,628 L1180,628 M1201,629 L1195,629 L1191,631 L1181,631 M1201,633 L1196,633 M1201,643 L1195,643 L1191,640 M1201,647 L1192,647 L1188,650 L1183,650 M1201,651 L1196,651 L1193,653 M1247,622 L1252,622 L1255,620 M1247,626 L1258,626 L1262,623 L1266,623 M1247,629 L1256,629 L1259,626.5 L1267,626.5 M1247,633 L1254,633 M1247,640 L1253,640 L1256,643 M1247,644 L1256,644 M1247,648 L1255,648 L1259,651 L1265,651 M1247,651 L1252,651 M1209,614 L1209,609 M1209,659 L1209,662 M1213,614 L1213,610 M1213,659 L1213,662 M1217,614 L1217,611 M1217,659 L1217,662 M1221,614 L1221,609 M1221,659 L1221,662 M1225,614 L1225,610 M1225,659 L1225,662 M1229,614 L1229,611 M1229,659 L1229,662 M1233,614 L1233,609 M1233,659 L1233,662 M1237,614 L1237,610 M1237,659 L1237,662 M1241,614 L1241,611 M1241,659 L1241,662" stroke="#9aa8cc" stroke-width="0.9" fill="none" opacity="0.8"/>
<g stroke-width="1.4" opacity="0.75"><path d="M1208,615 L1208,618.5" stroke="#6b79b8"/><path d="M1211,615 L1211,618.5" stroke="#6b79b8"/><path d="M1214,615 L1214,618.5" stroke="#6b79b8"/><path d="M1217,615 L1217,618.5" stroke="#6b79b8"/><path d="M1220,615 L1220,618.5" stroke="#6b79b8"/><path d="M1223,615 L1223,618.5" stroke="#6b79b8"/><path d="M1226,615 L1226,618.5" stroke="#e8c84a"/><path d="M1229,615 L1229,618.5" stroke="#e8c84a"/><path d="M1232,615 L1232,618.5" stroke="#e8c84a"/><path d="M1235,615 L1235,618.5" stroke="#e8c84a"/><path d="M1238,615 L1238,618.5" stroke="#e8c84a"/><path d="M1241,615 L1241,618.5" stroke="#e8c84a"/><path d="M1208,654.5 L1208,658" stroke="#3fae62"/><path d="M1211,654.5 L1211,658" stroke="#3fae62"/><path d="M1214,654.5 L1214,658" stroke="#3fae62"/><path d="M1217,654.5 L1217,658" stroke="#3fae62"/><path d="M1220,654.5 L1220,658" stroke="#3fae62"/><path d="M1223,654.5 L1223,658" stroke="#3fae62"/><path d="M1226,654.5 L1226,658" stroke="#3fae62"/><path d="M1229,654.5 L1229,658" stroke="#e8c84a"/><path d="M1232,654.5 L1232,658" stroke="#e8c84a"/><path d="M1235,654.5 L1235,658" stroke="#e8c84a"/><path d="M1238,654.5 L1238,658" stroke="#6b79b8"/><path d="M1241,654.5 L1241,658" stroke="#6b79b8"/><path d="M1201.5,621 L1205,621" stroke="#6b79b8"/><path d="M1201.5,624 L1205,624" stroke="#6b79b8"/><path d="M1201.5,627 L1205,627" stroke="#6b79b8"/><path d="M1201.5,630 L1205,630" stroke="#6b79b8"/><path d="M1201.5,633 L1205,633" stroke="#6b79b8"/><path d="M1201.5,636 L1205,636" stroke="#6b79b8"/><path d="M1201.5,639 L1205,639" stroke="#6b79b8"/><path d="M1201.5,642 L1205,642" stroke="#6b79b8"/><path d="M1201.5,645 L1205,645" stroke="#6b79b8"/><path d="M1201.5,648 L1205,648" stroke="#6b79b8"/><path d="M1201.5,651 L1205,651" stroke="#6b79b8"/><path d="M1243.5,621 L1247,621" stroke="#5b5fb0"/><path d="M1243.5,624 L1247,624" stroke="#5b5fb0"/><path d="M1243.5,627 L1247,627" stroke="#5b5fb0"/><path d="M1243.5,630 L1247,630" stroke="#5b5fb0"/><path d="M1243.5,633 L1247,633" stroke="#5b5fb0"/><path d="M1243.5,636 L1247,636" stroke="#5b5fb0"/><path d="M1243.5,639 L1247,639" stroke="#5b5fb0"/><path d="M1243.5,642 L1247,642" stroke="#5b5fb0"/><path d="M1243.5,645 L1247,645" stroke="#5b5fb0"/><path d="M1243.5,648 L1247,648" stroke="#5b5fb0"/><path d="M1243.5,651 L1247,651" stroke="#5b5fb0"/></g>
<defs><clipPath id="chip"><rect x="1206" y="619.8" width="36.3" height="33.8"/></clipPath></defs>
<rect x="1205.2" y="619" width="37.6" height="35.3" fill="#fff" stroke="#c8cde0" stroke-width="0.8"/>
<g clip-path="url(#chip)"><rect x="1200" y="615" width="50" height="45" fill="#4cb27a"/><path d="M1194,639 L1233,613 L1270,637 L1233,661 Z" fill="#f4d462"/><circle cx="1254.4" cy="637" r="31" fill="#fbeaa0"/><circle cx="1255.4" cy="637" r="30" fill="#6c70b6"/></g>
<text x="1206.5" y="646.8" font-size="24.5" textLength="35" lengthAdjust="spacingAndGlyphs" font-weight="bold" fill="#fff" style="stroke:none">BR</text>
</svg></body></html>
